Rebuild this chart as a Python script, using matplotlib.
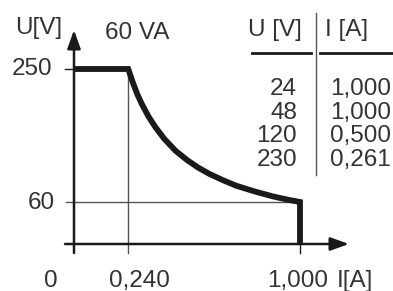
import matplotlib

matplotlib.use("Agg")
import matplotlib.pyplot as plt


WIDTH_PX, HEIGHT_PX = 393, 291
DPI = 100

# pixel layout of the plot frame: I=0 / I=1 and U=0 / U=250 positions
X0_PX, X1_PX = 74, 300
Y0_PX, Y250_PX = 244, 69

TEXT_COLOR = "#333333"
LINE_COLOR = "#1a1a1a"
THIN_COLOR = "#555555"
FONT_SIZE = 17.5

# output characteristic
current = [0.00, 0.24, 0.26, 0.28, 0.30, 0.33, 0.36, 0.40, 0.45, 0.50,
           0.55, 0.60, 0.66, 0.72, 0.80, 0.88, 0.95, 1.00, 1.00]
voltage = [250, 250, 231, 214, 200, 182, 167, 150, 133, 120,
           109, 100, 91, 83, 75, 68, 63, 60, 0]

corner_current = 0.240
max_current = 1.000
max_voltage = 250
min_voltage = 60
power_label = "60 VA"

table_voltage = ["24", "48", "120", "230"]
table_current = ["1,000", "1,000", "0,500", "0,261"]


def fig_xy(x, y):
    # pixel position (from top-left) to figure fraction
    return x / WIDTH_PX, 1 - y / HEIGHT_PX


def main():
    plt.rcParams["font.family"] = ["Liberation Sans", "DejaVu Sans"]

    fig = plt.figure(figsize=(WIDTH_PX / DPI, HEIGHT_PX / DPI), dpi=DPI)
    ax = fig.add_axes([0, 0, 1, 1])
    ax.set_axis_off()

    x_scale = (X1_PX - X0_PX) / max_current
    y_scale = (Y0_PX - Y250_PX) / max_voltage
    ax.set_xlim(-X0_PX / x_scale, (WIDTH_PX - X0_PX) / x_scale)
    ax.set_ylim(-(HEIGHT_PX - Y0_PX) / y_scale, Y0_PX / y_scale)

    def dx(px):
        return px / x_scale

    def dy(px):
        return px / y_scale

    # thin helper lines
    ax.plot([corner_current, corner_current], [-dy(9), max_voltage],
            color=THIN_COLOR, lw=1.0, zorder=1)
    ax.plot([-dx(8), max_current], [min_voltage, min_voltage],
            color=THIN_COLOR, lw=1.0, zorder=1)
    ax.plot([-dx(9), 0], [max_voltage, max_voltage],
            color=LINE_COLOR, lw=1.0, zorder=1)
    ax.plot([max_current, max_current], [-dy(9), 0],
            color=LINE_COLOR, lw=1.0, zorder=1)

    # axes with arrows
    arrow = dict(arrowstyle="-|>,head_length=0.7,head_width=0.25",
                 lw=1.8, color=LINE_COLOR, mutation_scale=16,
                 shrinkA=0, shrinkB=0)
    ax.annotate("", xy=(0, dy(214)), xytext=(0, -dy(9)), arrowprops=arrow)
    ax.annotate("", xy=(dx(275), 0), xytext=(-dx(9), 0), arrowprops=arrow)

    # characteristic curve
    ax.plot(current, voltage, color=LINE_COLOR, lw=4.2,
            solid_joinstyle="miter", solid_capstyle="butt", zorder=3)

    text_kw = dict(color=TEXT_COLOR, fontsize=FONT_SIZE, va="baseline",
                   transform=fig.transFigure)

    # axis labels and tick labels
    fig.text(*fig_xy(39, 34), "U[V]", ha="center", **text_kw)
    fig.text(*fig_xy(137, 39), power_label, ha="center", **text_kw)
    fig.text(*fig_xy(52, 75), str(max_voltage), ha="right", **text_kw)
    fig.text(*fig_xy(55, 209), str(min_voltage), ha="right", **text_kw)
    fig.text(*fig_xy(51, 287), "0", ha="center", **text_kw)
    fig.text(*fig_xy(139, 287), "0,240", ha="center", **text_kw)
    fig.text(*fig_xy(298, 287), "1,000", ha="center", **text_kw)
    fig.text(*fig_xy(355, 287), "I[A]", ha="center", **text_kw)

    # table: header plus one block of rows per column
    # (baseline alignment of a multi-line text uses its last line)
    fig.text(*fig_xy(275, 36), "U [V]", ha="center", **text_kw)
    fig.text(*fig_xy(347, 36), "I [A]", ha="center", **text_kw)
    fig.text(*fig_xy(297, 166), "\n".join(table_voltage), ha="right",
             multialignment="right", linespacing=1.1, **text_kw)
    fig.text(*fig_xy(330, 166), "\n".join(table_current), ha="left",
             multialignment="left", linespacing=1.1, **text_kw)

    fig.add_artist(plt.Line2D([252 / WIDTH_PX, 311 / WIDTH_PX],
                              [1 - 53 / HEIGHT_PX] * 2,
                              color=LINE_COLOR, lw=2.0))
    fig.add_artist(plt.Line2D([320 / WIDTH_PX, 393 / WIDTH_PX],
                              [1 - 53 / HEIGHT_PX] * 2,
                              color=LINE_COLOR, lw=2.0))
    fig.add_artist(plt.Line2D([316 / WIDTH_PX] * 2,
                              [1 - 13 / HEIGHT_PX, 1 - 175 / HEIGHT_PX],
                              color=THIN_COLOR, lw=1.0))

    fig.savefig("out.png", dpi=DPI, facecolor="white")


if __name__ == "__main__":
    main()
